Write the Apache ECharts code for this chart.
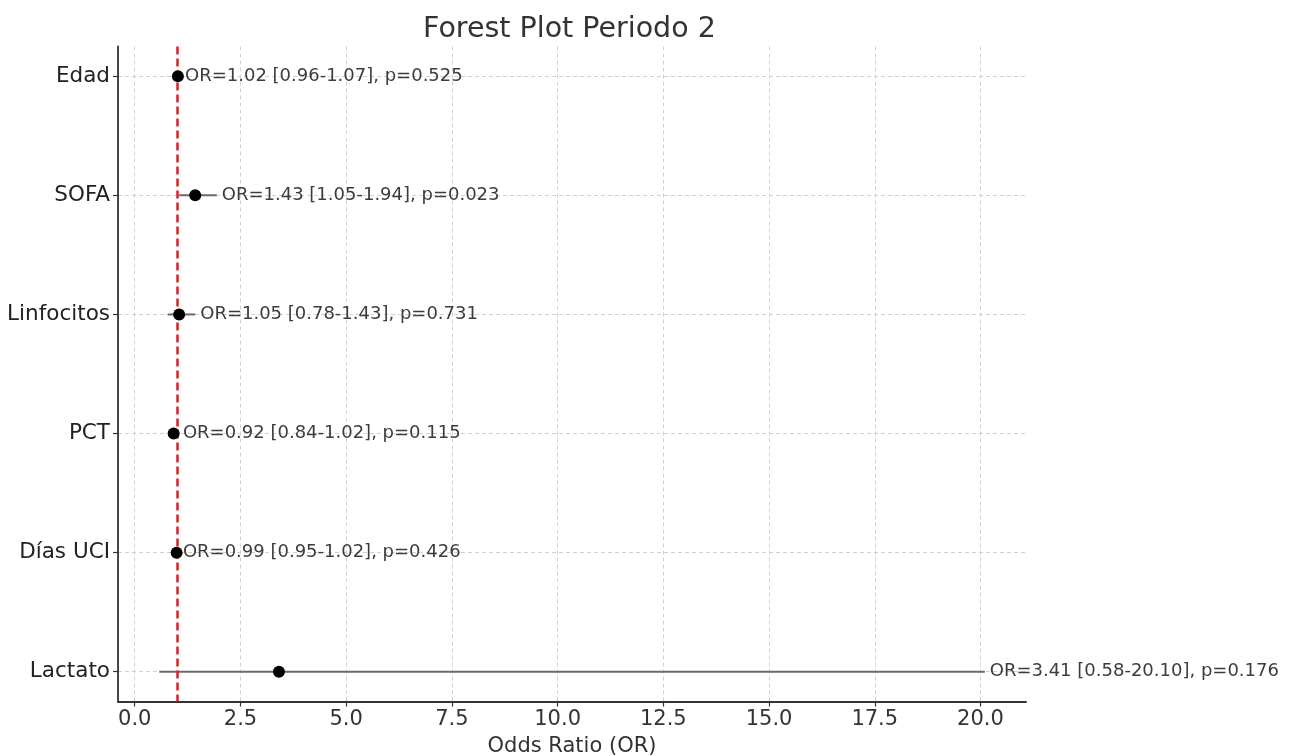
<!DOCTYPE html>
<html>
<head>
<meta charset="utf-8">
<script src="https://cdn.jsdelivr.net/npm/echarts@6/dist/echarts.min.js"></script>
<style>html,body{margin:0;padding:0;background:#fff;}#c{width:1291px;height:756px;}</style>
</head>
<body>
<div id="c"></div>
<script>
const categories = ['Edad', 'SOFA', 'Linfocitos', 'PCT', 'Días UCI', 'Lactato'];
const orValues = [1.02, 1.43, 1.05, 0.92, 0.99, 3.41];
const ciLow = [0.96, 1.05, 0.78, 0.84, 0.95, 0.58];
const ciHigh = [1.07, 1.94, 1.43, 1.02, 1.02, 20.10];
const pValues = [0.525, 0.023, 0.731, 0.115, 0.426, 0.176];
const xTicks = [0, 2.5, 5, 7.5, 10, 12.5, 15, 17.5, 20];
const refLine = 1;

const FONT = '"DejaVu Sans", sans-serif';
const lo = Math.min(...ciLow), hi = Math.max(...ciHigh);
const xPad = (hi - lo) * 0.05;
const yIdx = categories.map((_, i) => i);

const ciData = categories.map((c, i) => [ciLow[i], ciHigh[i], i, orValues[i], pValues[i]]);
const pointData = categories.map((c, i) => [orValues[i], i]);

const chart = echarts.init(document.getElementById('c'), null, {renderer: 'canvas'});
chart.setOption({
  animation: false,
  backgroundColor: '#ffffff',
  title: {
    text: 'Forest Plot Periodo 2',
    left: 418, top: 10,
    textStyle: {fontFamily: FONT, fontSize: 28.5, fontWeight: 'normal', color: '#333333'}
  },
  grid: {left: 118, right: 265, top: 46.5, bottom: 54.5, containLabel: false, outerBoundsMode: 'none'},
  xAxis: {
    type: 'value',
    min: lo - xPad, max: hi + xPad,
    name: 'Odds Ratio (OR)', nameLocation: 'middle', nameGap: 35,
    nameTextStyle: {fontFamily: FONT, fontSize: 21, color: '#333333'},
    axisLine: {show: true, onZero: false, lineStyle: {color: '#333333', width: 1.8}},
    axisTick: {show: true, length: 5, customValues: xTicks, lineStyle: {color: '#333333', width: 1.2}},
    axisLabel: {customValues: xTicks, margin: 8, fontFamily: FONT, fontSize: 21, color: '#333333',
      formatter: v => Number(v).toFixed(1)},
    splitLine: {show: true, lineStyle: {color: '#d0d0d0', type: [4, 3], width: 1}}
  },
  yAxis: {
    type: 'value',
    inverse: true,
    min: -0.25, max: categories.length - 0.75,
    axisLine: {show: true, onZero: false, lineStyle: {color: '#333333', width: 1.8}},
    axisTick: {show: true, length: 5, customValues: yIdx, lineStyle: {color: '#333333', width: 1.2}},
    axisLabel: {customValues: yIdx, margin: 8, fontFamily: FONT, fontSize: 21.5, color: '#222222',
      formatter: v => categories[Math.round(v)] || ''},
    splitLine: {show: true, lineStyle: {color: '#d0d0d0', type: [4, 3], width: 1}}
  },
  series: [
    {
      type: 'custom',
      z: 3,
      data: ciData,
      encode: {x: [0, 1], y: 2},
      renderItem: function (params, api) {
        const y = api.value(2);
        const p1 = api.coord([api.value(0), y]);
        const p2 = api.coord([api.value(1), y]);
        const txt = 'OR=' + api.value(3).toFixed(2) + ' [' + api.value(0).toFixed(2) + '-' +
          api.value(1).toFixed(2) + '], p=' + api.value(4).toFixed(3);
        return {
          type: 'group',
          children: [
            {type: 'line', shape: {x1: p1[0], y1: p1[1], x2: p2[0], y2: p2[1]},
              style: {stroke: '#6a6a6a', lineWidth: 2}},
            {type: 'text', x: p2[0] + 5, y: p2[1],
              style: {text: txt, fill: '#3c3c3c', font: '18px ' + FONT, verticalAlign: 'middle', align: 'left'}}
          ]
        };
      }
    },
    {
      type: 'scatter',
      z: 5,
      symbol: 'circle',
      symbolSize: 12,
      itemStyle: {color: '#000000', opacity: 1},
      data: pointData,
      markLine: {
        silent: true,
        symbol: ['none', 'none'],
        label: {show: false},
        z: 4,
        lineStyle: {color: '#d8202a', type: [8, 4], width: 2.5},
        data: [{xAxis: refLine}]
      }
    }
  ]
});
</script>
</body>
</html>
